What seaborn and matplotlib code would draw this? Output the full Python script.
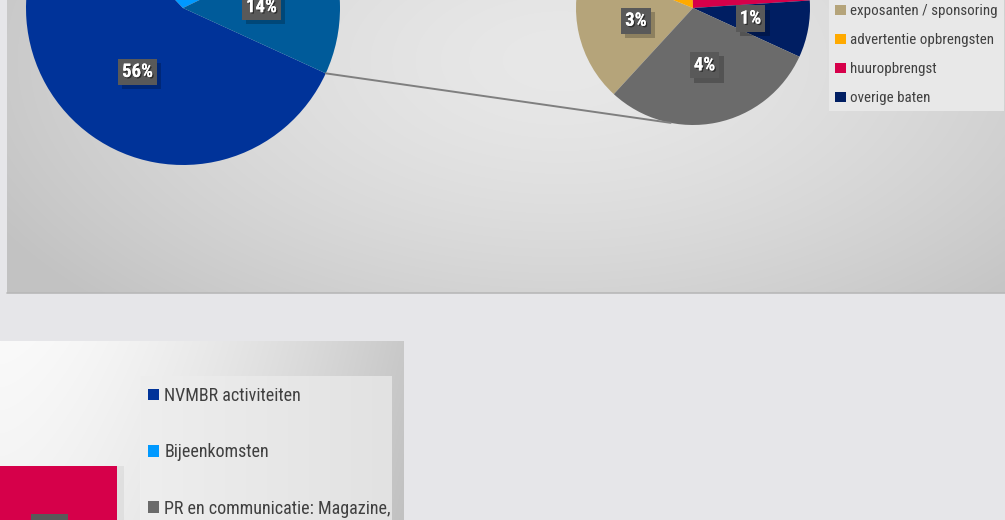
import numpy as np
import matplotlib
matplotlib.use("Agg")
import matplotlib.pyplot as plt
import matplotlib.patheffects as pe
from matplotlib.patches import Rectangle
from matplotlib import font_manager
import seaborn as sns
import pandas as pd

# ---------------- data ----------------
main_labels = ["NVMBR activiteiten", "Bijeenkomsten", "Overig"]
main_values = [56, 30, 14]
main_colors = ["#003399", "#0099ff", "#005b9a"]

sub_labels = ["exposanten / sponsoring", "advertentie opbrengsten", "huuropbrengst",
              "overige baten", "opleidingen"]
sub_values = [2.7, 2.6, 3.4, 1.1, 4.2]
sub_colors = ["#b5a47a", "#ffaa00", "#d6004a", "#001e62", "#6b6b6b"]
sub_legend_items = sub_labels[:4]

bottom_legend = ["NVMBR activiteiten", "Bijeenkomsten", "PR en communicatie: Magazine,"]
bottom_legend_colors = ["#003399", "#0099ff", "#6b6b6b"]
bar_category = ["kosten"]
bar_value = [100]
bar_color = "#d6004a"

# ---------------- style ----------------
sns.set_theme(style="white")
names = sorted({f.name for f in font_manager.fontManager.ttflist})
cands = ["Roboto Condensed", "Liberation Sans Narrow", "DejaVu Sans Condensed",
         "Roboto", "Liberation Sans"]
chosen = [c for c in cands if c in names]
plt.rcParams["font.family"] = chosen + ["DejaVu Sans"]

W, H = 1005, 520
fig = plt.figure(figsize=(W / 100, H / 100), dpi=100, facecolor="#e6e6e9")
ax = fig.add_axes([0, 0, 1, 1])
ax.set_facecolor("#e6e6e9")


def Y(y):  # image row -> data y
    return H - y


# ---------- top panel gradient ----------
x0, x1, y0, y1 = 7, 1005, -10, 293
xs = np.arange(x0, x1)
ys = np.arange(y0, y1)
XX, YY = np.meshgrid(xs, ys)
d = np.sqrt(((XX - 560) / 650.0) ** 2 + ((YY - 60) / 350.0) ** 2)
t = np.clip(d, 0, 1) ** 1.5
g = (232 - 38 * t) / 255.0
img = np.dstack([g, g, g])
ax.imshow(img, extent=(x0, x1, Y(y1), Y(y0)), origin="upper", aspect="auto", zorder=0)
ax.plot([x0, x1], [Y(y1) + 0.5, Y(y1) + 0.5], color="#b8b8b8", lw=1.2, zorder=1)

# ---------- bottom panel gradient ----------
bx0, bx1, by0, by1 = 0, 404, 341, 520
xs = np.arange(bx0, bx1)
ys = np.arange(by0, by1)
XX, YY = np.meshgrid(xs, ys)
t = np.clip(XX / 404.0, 0, 1) ** 1.6 * 0.85 + np.clip((YY - 341) / 400.0, 0, 1) * 0.3
g = (250 - 58 * np.clip(t, 0, 1)) / 255.0
ax.imshow(np.dstack([g, g, g]), extent=(bx0, bx1, Y(by1), Y(by0)), origin="upper",
          aspect="auto", zorder=0)
ix0, ix1, iy0, iy1 = 140, 392, 376, 520
xs = np.arange(ix0, ix1)
ys = np.arange(iy0, iy1)
XX, YY = np.meshgrid(xs, ys)
g = (238 - 12 * ((XX - ix0) / (ix1 - ix0))) / 255.0
ax.imshow(np.dstack([g, g, g]), extent=(ix0, ix1, Y(iy1), Y(iy0)), origin="upper",
          aspect="auto", zorder=0.5)

# ---------- pies ----------
big_c, big_r = (183, Y(8)), 157
small_c, small_r = (693, Y(8)), 117

wedges_big, _ = ax.pie(main_values, colors=main_colors, startangle=-24.6,
                       counterclock=False, center=big_c, radius=big_r,
                       wedgeprops=dict(linewidth=0), frame=True)
wedges_small, _ = ax.pie(sub_values, colors=sub_colors, startangle=227.4,
                         counterclock=False, center=small_c, radius=small_r,
                         wedgeprops=dict(linewidth=0), frame=True)
for w in list(wedges_big) + list(wedges_small):
    w.set_zorder(2)

total = sum(main_values)
txt_shadow = [pe.withSimplePatchShadow(offset=(1, -1), shadow_rgbFace="black", alpha=0.5),
              pe.Normal()]
box_shadow = [pe.withSimplePatchShadow(offset=(3, -3), shadow_rgbFace="black", alpha=0.22),
              pe.Normal()]


def label_wedges(wedges, values, center, r):
    for w, v in zip(wedges, values):
        mid = np.deg2rad((w.theta1 + w.theta2) / 2.0)
        px = center[0] + 0.5 * r * np.cos(mid)
        py = center[1] + 0.5 * r * np.sin(mid)
        txt = f"{round(v / total * 100):d}%"
        tx = ax.text(px, py, txt, color="white", fontsize=13.5, fontweight="bold",
                     ha="center", va="center", zorder=6, path_effects=txt_shadow,
                     bbox=dict(boxstyle="square,pad=0.22", fc="#595959", ec="none"))
        tx.get_bbox_patch().set_path_effects(box_shadow)


label_wedges(wedges_big, main_values, big_c, big_r)
label_wedges(wedges_small, sub_values, small_c, small_r)

# connector line: end of 'Overig' wedge to bottom of secondary pie
a = np.deg2rad(wedges_big[2].theta1)
p0 = (big_c[0] + big_r * np.cos(a), big_c[1] + big_r * np.sin(a))
b = np.deg2rad(259)
p1 = (small_c[0] + small_r * np.cos(b), small_c[1] + small_r * np.sin(b))
ax.plot([p0[0], p1[0]], [p0[1], p1[1]], color="#7f7f7f", lw=1.4, zorder=3)

# ---------- top legend ----------
handles = [Rectangle((0, 0), 1, 1, fc=sub_colors[i], ec="none") for i in range(4)]
leg = ax.legend(handles, sub_legend_items, loc="lower left",
                bbox_to_anchor=(829, Y(111)), bbox_transform=ax.transData,
                fontsize=10.8, frameon=True, fancybox=False, framealpha=1,
                facecolor="#e8e8e8", edgecolor="none", handlelength=0.7,
                handleheight=0.7, handletextpad=0.3, labelspacing=1.0,
                borderpad=0.4, borderaxespad=0)
for t_ in leg.get_texts():
    t_.set_color("#404040")
leg.set_zorder(7)
ax.add_artist(leg)

# ---------- bottom bar (seaborn) ----------
bar_left, bar_right = -18, 117
bar_top, axes_bottom = 466, 620
bax = fig.add_axes([bar_left / W, 1 - axes_bottom / H, (bar_right - bar_left) / W,
                    (axes_bottom - bar_top) / H])
bax.patch.set_alpha(0)
df = pd.DataFrame({"cat": bar_category, "val": bar_value})
sns.barplot(data=df, x="cat", y="val", color=bar_color, width=1.0, saturation=1,
            ax=bax, zorder=3)
bax.set_xlim(-0.5, 0.5)
bax.set_ylim(0, bar_value[0])
bax.axis("off")
for p in bax.patches:
    p.set_linewidth(0)
ax.add_patch(Rectangle((bar_right, Y(530)), 7, 64, fc=(0, 0, 0, 0.05), ec="none",
                       zorder=0.8))
lab = Rectangle((31, Y(530)), 37, 16, fc="#595959", ec="none",
                transform=ax.transData, zorder=5)
fig.add_artist(lab)

# ---------- bottom legend ----------
bh = [Rectangle((0, 0), 1, 1, fc=c, ec="none") for c in bottom_legend_colors]
leg2 = ax.legend(bh, bottom_legend, loc="upper left",
                 bbox_to_anchor=(148, Y(387)), bbox_transform=ax.transData,
                 fontsize=13, frameon=False, handlelength=0.6, handleheight=0.6,
                 handletextpad=0.3, labelspacing=2.12, borderpad=0, borderaxespad=0)
for t_ in leg2.get_texts():
    t_.set_color("#404040")
leg2.set_zorder(7)

ax.set_xlim(0, W)
ax.set_ylim(0, H)
ax.set_aspect("auto")
ax.axis("off")

fig.savefig("out.png", dpi=100, facecolor=fig.get_facecolor())
